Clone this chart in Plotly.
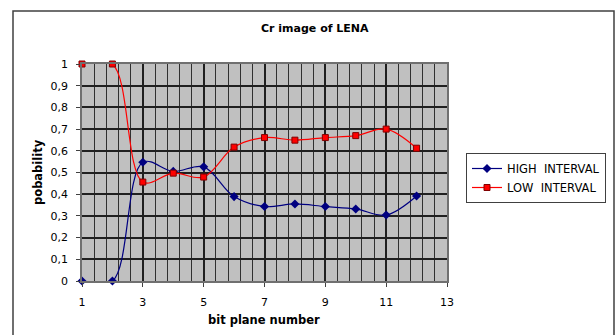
import plotly.graph_objects as go

# Bit plane probabilities for the Cr channel of LENA
bit_planes = [1, 2, 3, 4, 5, 6, 7, 8, 9, 10, 11, 12]
high_interval = [0.0, 0.0, 0.547, 0.505, 0.526, 0.389, 0.343, 0.355, 0.343, 0.332, 0.304, 0.392]
low_interval = [1.0, 1.0, 0.456, 0.497, 0.479, 0.617, 0.661, 0.649, 0.661, 0.670, 0.700, 0.612]

x_ticks = [1, 3, 5, 7, 9, 11, 13]
y_ticks = [0, 0.1, 0.2, 0.3, 0.4, 0.5, 0.6, 0.7, 0.8, 0.9, 1.0]
y_tick_labels = ["0", "0,1", "0,2", "0,3", "0,4", "0,5", "0,6", "0,7", "0,8", "0,9", "1"]

W, H = 615, 335
L, R, T, B = 82, 447, 64, 281


def px_x(p):
    return (p - L) / (R - L)


def px_y(p):
    return (B - p) / (B - T)


fig = go.Figure()
fig.add_trace(go.Scatter(
    x=bit_planes, y=high_interval, name="HIGH\u00a0 INTERVAL",
    mode="lines+markers",
    line=dict(color="#000080", width=1.2, shape="spline", smoothing=1.0),
    marker=dict(symbol="diamond", size=7, color="#000080"),
    cliponaxis=False,
))
fig.add_trace(go.Scatter(
    x=bit_planes, y=low_interval, name="LOW\u00a0 INTERVAL",
    mode="lines+markers",
    line=dict(color="#FF0000", width=1.2, shape="spline", smoothing=1.0),
    marker=dict(symbol="square", size=6, color="#FF0000",
                line=dict(color="#800000", width=1)),
    cliponaxis=False,
))

font = "DejaVu Sans, Arial, sans-serif"

fig.update_layout(
    width=W, height=H,
    margin=dict(l=L, r=W - R, t=T, b=H - B, autoexpand=False),
    paper_bgcolor="white",
    plot_bgcolor="#C0C0C0",
    font=dict(family=font, size=11, color="black"),
    showlegend=True,
    legend=dict(
        xref="container", yref="container",
        x=466 / W, y=1 - 153 / H,
        xanchor="left", yanchor="top",
        bgcolor="white", bordercolor="#404040", borderwidth=1,
        font=dict(family=font, size=11.5, color="black"),
        itemwidth=30, tracegroupgap=0,
    ),
    xaxis=dict(
        range=[1, 13], tickvals=x_ticks, ticktext=[str(v) for v in x_ticks],
        showgrid=True, gridcolor="#202020", gridwidth=1.5,
        minor=dict(dtick=0.4, tick0=1, showgrid=True,
                   gridcolor="#303030", gridwidth=1.3),
        ticks="outside", ticklen=4, tickcolor="#404040",
        ticklabelstandoff=6,
        showline=True, linecolor="#707070", linewidth=1.5, mirror=True,
        zeroline=False, automargin=False,
        tickfont=dict(family=font, size=11),
    ),
    yaxis=dict(
        range=[0, 1], tickvals=y_ticks, ticktext=y_tick_labels,
        showgrid=True, gridcolor="#202020", gridwidth=1.8,
        ticks="outside", ticklen=4, tickcolor="#404040",
        ticklabelstandoff=6,
        showline=True, linecolor="#707070", linewidth=1.5, mirror=True,
        zeroline=False, automargin=False,
        tickfont=dict(family=font, size=11),
    ),
    annotations=[
        dict(text="<b>Cr image of LENA</b>", xref="paper", yref="paper",
             x=px_x(315), y=px_y(29), xanchor="center", yanchor="middle",
             showarrow=False, font=dict(family=font, size=11, color="black")),
        dict(text="<b>bit plane number</b>", xref="paper", yref="paper",
             x=px_x(264), y=px_y(320), xanchor="center", yanchor="middle",
             showarrow=False, font=dict(family=font, size=11.5, color="black")),
        dict(text="<b>pobability</b>", xref="paper", yref="paper",
             x=px_x(38), y=px_y(172), xanchor="center", yanchor="middle",
             textangle=-90, showarrow=False,
             font=dict(family=font, size=11.5, color="black")),
    ],
    shapes=[dict(
        type="rect", xref="paper", yref="paper",
        x0=px_x(13), x1=px_x(614), y0=px_y(345), y1=px_y(11),
        line=dict(color="#404040", width=1.5), fillcolor="rgba(0,0,0,0)",
        layer="below",
    )],
)

fig.write_html("out.html")
